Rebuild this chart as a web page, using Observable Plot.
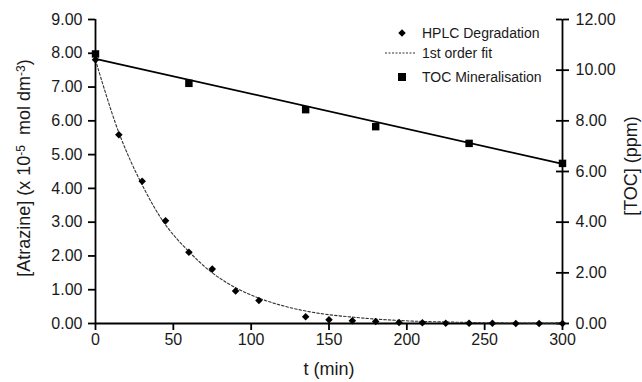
<!DOCTYPE html>
<html>
<head>
<meta charset="utf-8">
<script src="https://cdn.jsdelivr.net/npm/d3@7"></script>
<script src="https://cdn.jsdelivr.net/npm/@observablehq/plot@0.6"></script>
<style>
  html, body { margin: 0; padding: 0; background: white; }
  #chart { position: relative; width: 642px; height: 382px; }
</style>
</head>
<body>
<div id="chart"></div>
<script>
// HPLC degradation (x 10^-5 mol dm^-3)
const hplcTime = [0, 15, 30, 45, 60, 75, 90, 105, 135, 150, 165, 180, 195, 210, 225, 240, 255, 270, 285, 300];
const hplcConc = [7.81, 5.59, 4.21, 3.04, 2.11, 1.61, 0.96, 0.68, 0.20, 0.11, 0.08, 0.06, 0.03, 0.02, 0.01, 0.01, 0.01, 0.0, 0.0, 0.0];

// 1st order fit curve
const fitTime = [0, 15, 30, 45, 60, 75, 90, 105, 120, 135, 150, 165, 180, 195, 210, 225, 240, 255, 270, 285, 300];
const fitConc = [7.80, 5.65, 4.10, 2.92, 2.13, 1.50, 1.06, 0.75, 0.53, 0.37, 0.26, 0.19, 0.13, 0.09, 0.06, 0.045, 0.03, 0.02, 0.015, 0.01, 0.01];

// TOC mineralisation (ppm)
const tocTime = [0, 60, 135, 180, 240, 300];
const tocPpm = [10.64, 9.48, 8.44, 7.77, 7.11, 6.32];

// TOC linear trend (ppm)
const tocLineTime = [0, 300];
const tocLinePpm = [10.45, 6.30];

// Axis ticks
const xTicks = [0, 50, 100, 150, 200, 250, 300];
const leftTicks = [0, 1, 2, 3, 4, 5, 6, 7, 8, 9];
const rightTicks = [0, 2, 4, 6, 8, 10, 12];

// Legend labels
const legendLabels = ["HPLC Degradation", "1st order fit", "TOC Mineralisation"];

const leftMax = 9, rightMax = 12;
const toLeft = v => v * leftMax / rightMax;

const hplc = hplcTime.map((t, i) => ({t, c: hplcConc[i]}));
const fit = fitTime.map((t, i) => ({t, c: fitConc[i]}));
const toc = tocTime.map((t, i) => ({t, p: tocPpm[i]}));
const tocLine = tocLineTime.map((t, i) => ({t, p: tocLinePpm[i]}));

const font = "'Liberation Sans', Arial, Helvetica, sans-serif";

const chart = Plot.plot({
  width: 642,
  height: 382,
  marginLeft: 95,
  marginRight: 80,
  marginTop: 19,
  marginBottom: 59,
  style: { fontFamily: font, fontSize: "16px", color: "#1a1a1a", background: "white" },
  x: { domain: [0, 300] },
  y: { domain: [0, leftMax] },
  marks: [
    Plot.ruleY([0], { stroke: "black", strokeWidth: 1.8 }),
    Plot.ruleX([0], { stroke: "black", strokeWidth: 1.8 }),
    Plot.ruleX([300], { stroke: "black", strokeWidth: 1.8 }),
    Plot.axisX(xTicks, { tickSize: 7, tickPadding: 3, label: null, fontSize: 16, stroke: "black", strokeWidth: 1.8 }),
    Plot.axisY(leftTicks, { anchor: "left", tickSize: 7, tickPadding: 6, label: null, fontSize: 16, tickFormat: d => d.toFixed(2), stroke: "black", strokeWidth: 1.8 }),
    Plot.axisY(rightTicks.map(toLeft), { anchor: "right", tickSize: 6, tickPadding: 7, label: null, fontSize: 16, tickFormat: d => (d * rightMax / leftMax).toFixed(2), stroke: "black", strokeWidth: 1.8 }),
    Plot.axisY(rightTicks.map(toLeft), { anchor: "left", dx: 467, tickSize: 6, label: null, tickFormat: () => "", stroke: "black", strokeWidth: 1.8 }),
    Plot.line(fit, { x: "t", y: "c", stroke: "#333", strokeWidth: 1.1, strokeDasharray: "2.5,2", curve: "catmull-rom" }),
    Plot.line(tocLine, { x: "t", y: d => toLeft(d.p), stroke: "black", strokeWidth: 1.8 }),
    Plot.dot(hplc, { x: "t", y: "c", symbol: "diamond2", r: 3.4, fill: "black", stroke: "none" }),
    Plot.dot(toc, { x: "t", y: d => toLeft(d.p), symbol: "square", r: 4.2, fill: "black", stroke: "none" })
  ]
});

const svg = d3.select(chart);

// Axis titles
const yl = svg.append("text")
  .attr("transform", "translate(24,168) rotate(-90)")
  .attr("text-anchor", "middle")
  .attr("dy", "0.35em")
  .attr("font-family", font)
  .attr("font-size", 18)
  .attr("fill", "#1a1a1a");
yl.append("tspan").text("[Atrazine] (x 10");
yl.append("tspan").attr("font-size", 12).attr("dy", "-0.45em").text("-5");
yl.append("tspan").attr("dy", "0.3em").text("\u00a0 mol dm");
yl.append("tspan").attr("font-size", 12).attr("dy", "-0.45em").text("-3");
yl.append("tspan").attr("dy", "0.3em").text(")");

svg.append("text")
  .attr("transform", "translate(631,166) rotate(-90)")
  .attr("text-anchor", "middle")
  .attr("dy", "0.35em")
  .attr("font-family", font)
  .attr("font-size", 18)
  .attr("fill", "#1a1a1a")
  .text("[TOC] (ppm)");

svg.append("text")
  .attr("x", 329)
  .attr("y", 369)
  .attr("text-anchor", "middle")
  .attr("dy", "0.35em")
  .attr("font-family", font)
  .attr("font-size", 18)
  .attr("fill", "#1a1a1a")
  .text("t (min)");

// Legend
const lg = svg.append("g").attr("font-family", font).attr("font-size", 14).attr("fill", "#1a1a1a").attr("text-anchor", "start");
const rows = [33, 53, 77];
lg.append("path").attr("d", d3.symbol(d3.symbolDiamond2, 36)()).attr("transform", `translate(402,${rows[0]})`).attr("fill", "black");
lg.append("line").attr("x1", 385).attr("x2", 415).attr("y1", rows[1]).attr("y2", rows[1])
  .attr("stroke", "#333").attr("stroke-width", 1).attr("stroke-dasharray", "2,1.5");
lg.append("rect").attr("x", 398).attr("y", rows[2] - 4).attr("width", 8).attr("height", 8).attr("fill", "black");
legendLabels.forEach((lab, i) => {
  lg.append("text").attr("x", 422).attr("y", rows[i]).attr("dy", "0.35em").attr("text-anchor", "start").text(lab);
});

document.getElementById("chart").appendChild(chart);
</script>
</body>
</html>
